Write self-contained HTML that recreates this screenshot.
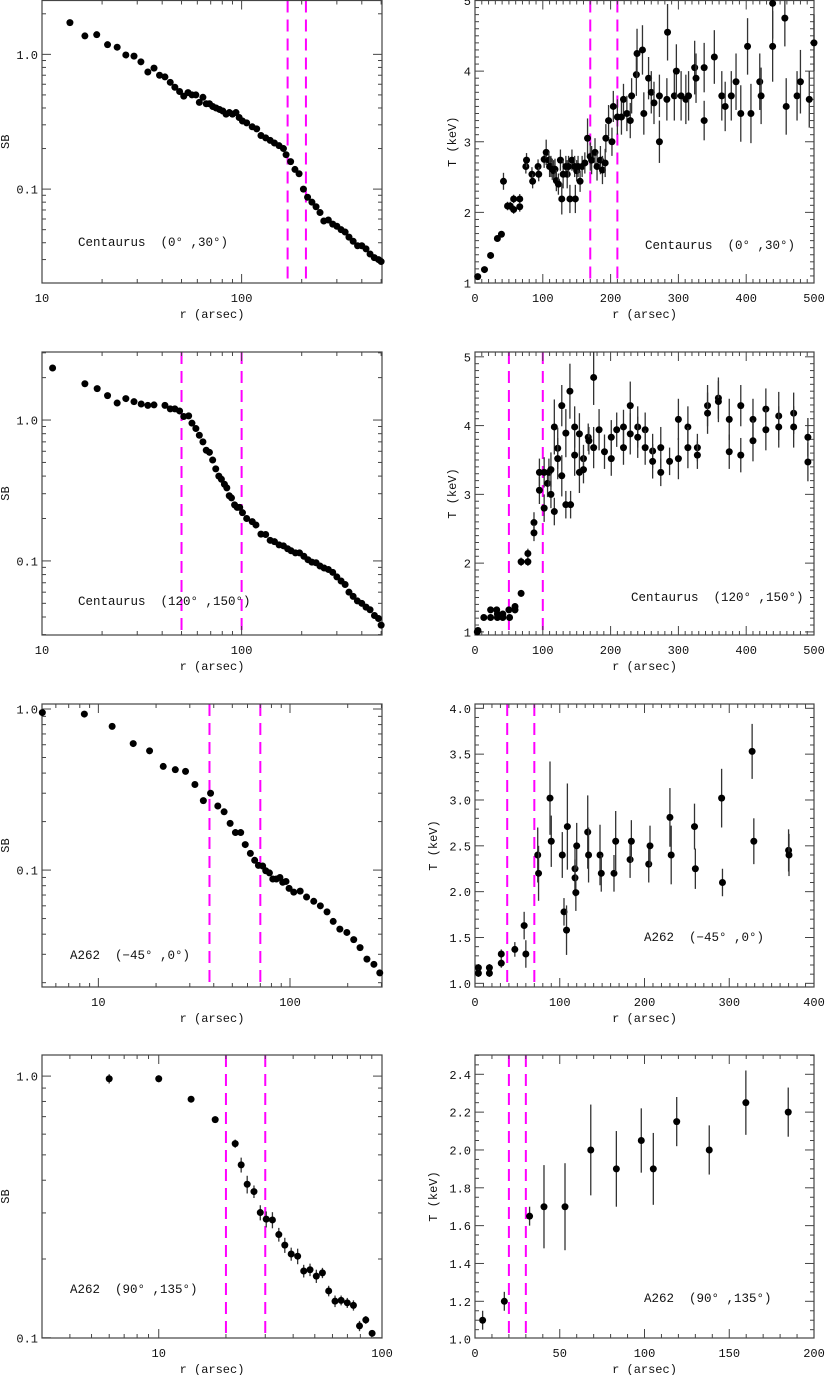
<!DOCTYPE html>
<html><head><meta charset="utf-8"><title>SB and T profiles</title>
<style>
html,body{margin:0;padding:0;background:#fff;}
svg{display:block;font-family:"Liberation Mono","DejaVu Sans Mono",monospace;}
svg text{white-space:pre;}
</style></head>
<body>
<svg id="fig" width="825" height="1375" viewBox="0 0 825 1375" xmlns="http://www.w3.org/2000/svg"></svg>
<script>
// ---------- Panel 1: Centaurus (0,30) SB ----------
const p1R=[13.8,16.4,18.8,21.3,23.8,26.3,28.9,31.3,33.9,36.4,38.8,41.3,43.9,46.3,48.9,51.3,53.9,56.4,59,61.4,64,66.5,69,71.7,74.5,77.5,80.5,83.6,86.8,90,93.7,97.2,101,106,113,119,125,132,139,146,154,162,167,176,185,194,204,214,225,236,247,258,272,286,300,315,330,345,362,381,400,420,440,462,485,500];
const p1SB=[1.72,1.37,1.40,1.18,1.13,0.99,0.97,0.88,0.74,0.79,0.70,0.68,0.62,0.57,0.53,0.49,0.52,0.50,0.50,0.44,0.48,0.43,0.43,0.41,0.40,0.39,0.38,0.36,0.37,0.36,0.37,0.34,0.32,0.31,0.29,0.28,0.25,0.24,0.23,0.22,0.21,0.20,0.18,0.16,0.14,0.13,0.10,0.087,0.080,0.074,0.067,0.058,0.059,0.055,0.053,0.050,0.048,0.044,0.041,0.038,0.038,0.036,0.033,0.031,0.030,0.029];
// ---------- Panel 2: Centaurus (0,30) T ----------
const p2R=[4,14,23,33,39,42,48,52,57,57,66,66,75,76,84,85,93,94,102,105,109,110,112,114,116,118,120,123,126,128,130,134,136,138,140,143,147,148,150,152,155,158,162,166,170,172,177,180,185,188,192,193,197,202,204,210,216,219,224,229,231,238,239,247,249,256,260,264,272,272,284,283,294,297,304,311,315,324,326,338,338,353,364,369,378,385,392,402,407,420,422,439,439,457,459,475,480,493,500];
const p2T=[1.09,1.19,1.39,1.63,1.69,2.44,2.09,2.09,2.04,2.19,2.08,2.19,2.65,2.74,2.54,2.44,2.65,2.54,2.75,2.85,2.74,2.65,2.65,2.61,2.59,2.61,2.45,2.40,2.74,2.19,2.54,2.65,2.54,2.65,2.19,2.74,2.65,2.19,2.59,2.65,2.44,2.65,2.70,3.05,2.79,2.74,2.85,2.65,2.74,2.60,2.70,3.05,3.30,3.00,3.50,3.35,3.35,3.60,3.40,3.30,3.65,3.95,4.25,4.30,3.40,3.90,3.70,3.55,3.00,3.65,4.55,3.60,3.65,4.00,3.65,3.60,3.65,4.05,3.90,4.05,3.30,4.20,3.65,3.50,3.65,3.85,3.40,4.35,3.40,3.85,3.65,4.96,4.35,4.75,3.50,3.65,3.85,3.60,4.40];
const p2E=[0.03,0.03,0.03,0.04,0.04,0.12,0.06,0.06,0.06,0.06,0.07,0.07,0.1,0.1,0.1,0.1,0.1,0.1,0.12,0.18,0.12,0.15,0.15,0.15,0.15,0.15,0.15,0.15,0.15,0.22,0.2,0.15,0.2,0.15,0.2,0.15,0.15,0.2,0.15,0.15,0.15,0.15,0.15,0.28,0.2,0.2,0.2,0.2,0.2,0.2,0.2,0.2,0.22,0.2,0.22,0.25,0.25,0.22,0.25,0.25,0.25,0.3,0.35,0.35,0.3,0.3,0.3,0.3,0.3,0.3,0.4,0.3,0.35,0.38,0.35,0.35,0.35,0.38,0.35,0.35,0.28,0.38,0.35,0.35,0.35,0.4,0.4,0.4,0.42,0.4,0.4,0.5,0.5,0.4,0.4,0.35,0.45,0.4,0.4];
// ---------- Panel 3: Centaurus (120,150) SB ----------
const p3R=[11.3,16.4,18.9,21.3,23.8,26.3,28.9,31.4,33.9,36.4,41.3,43.9,46.3,48.9,51.3,54.3,56.4,59,61.4,64,66.5,69,71.6,74.2,76.9,79.2,82,84.3,86.7,89,92.2,95,97.8,101,106,113,118,125,132,139,146,154,162,170,177,186,195,205,215,225,236,247,259,272,286,300,315,330,345,362,380,400,420,440,463,485,500];
const p3SB=[2.34,1.81,1.67,1.49,1.32,1.42,1.35,1.30,1.27,1.28,1.27,1.20,1.20,1.16,1.06,1.07,0.95,0.87,0.78,0.70,0.61,0.59,0.52,0.45,0.40,0.38,0.35,0.33,0.29,0.28,0.25,0.24,0.24,0.22,0.20,0.19,0.18,0.155,0.154,0.14,0.137,0.13,0.128,0.122,0.118,0.114,0.114,0.108,0.102,0.098,0.097,0.092,0.089,0.087,0.083,0.077,0.072,0.068,0.060,0.056,0.052,0.050,0.047,0.045,0.041,0.039,0.035];
// ---------- Panel 4: Centaurus (120,150) T ----------
const p4R=[3.4,4.4,13,23,23,32,33,33,41,41,50,51,59,59,68,68,78,78,87,87,95,95,102,102,107,109,112,112,117,117,122,122,128,128,134,134,140,141,147,147,154,154,160,160,167,168,175,175,183,191,201,201,209,219,219,229,229,240,240,251,251,262,262,274,274,287,300,300,314,314,328,328,343,343,359,359,375,375,392,392,410,410,429,429,448,448,470,470,491,491];
const p4T=[1.0,1.02,1.21,1.32,1.21,1.32,1.21,1.26,1.26,1.21,1.32,1.21,1.37,1.32,2.02,1.56,2.14,2.02,2.59,2.44,3.32,3.06,2.80,3.32,3.16,3.32,3.00,3.36,2.75,3.98,3.67,3.52,4.29,3.27,3.89,2.85,4.50,2.85,3.57,3.98,3.32,3.88,3.52,3.36,3.83,3.78,4.70,3.68,3.94,3.62,3.83,3.52,3.94,3.98,3.68,4.29,3.88,3.98,3.83,3.94,3.68,3.63,3.48,3.68,3.32,3.48,4.09,3.52,3.98,3.68,3.68,3.57,4.29,4.18,4.40,4.35,4.09,3.62,4.29,3.57,4.09,3.78,4.24,3.94,4.14,3.98,4.18,3.98,3.83,3.47];
const p4E=[0.02,0.02,0.03,0.04,0.04,0.04,0.04,0.04,0.04,0.04,0.04,0.04,0.05,0.05,0.06,0.05,0.07,0.06,0.15,0.12,0.2,0.2,0.2,0.22,0.2,0.2,0.2,0.25,0.2,0.4,0.3,0.3,0.3,0.3,0.35,0.2,0.4,0.2,0.3,0.3,0.3,0.3,0.2,0.2,0.2,0.2,0.4,0.3,0.3,0.25,0.25,0.25,0.25,0.25,0.25,0.35,0.3,0.3,0.3,0.25,0.25,0.25,0.25,0.3,0.2,0.2,0.3,0.3,0.3,0.3,0.2,0.2,0.3,0.3,0.3,0.3,0.3,0.25,0.3,0.25,0.3,0.3,0.3,0.3,0.35,0.3,0.3,0.3,0.28,0.28];
// ---------- Panel 5: A262 (-45,0) SB ----------
const p5R=[5.1,8.45,11.8,15.2,18.5,21.8,25.2,28.5,31.9,35.3,38.5,42.0,45.3,48.7,51.9,55.3,58.4,62.1,65.4,68.4,72.0,74.7,78.1,81.3,84.9,88.6,91.6,95.3,98.9,104.6,113,122,133,144,156,168,182,198,215,232,252,274,294];
const p5SB=[0.95,0.93,0.78,0.61,0.55,0.44,0.42,0.41,0.34,0.27,0.30,0.25,0.23,0.195,0.171,0.171,0.144,0.127,0.115,0.107,0.106,0.099,0.096,0.088,0.088,0.090,0.084,0.085,0.077,0.073,0.074,0.068,0.064,0.060,0.055,0.048,0.043,0.041,0.037,0.033,0.028,0.026,0.023];
// ---------- Panel 6: A262 (-45,0) T ----------
const p6R=[4,4,17,17,31,31,47,58,60,74,75,88.5,90,103,105,108,109,118,118,119,120,133,134,147.5,149,164,166,183,184.5,205,206.5,230,231.5,259,260,291,292,327,329,370,370.5];
const p6T=[1.17,1.11,1.17,1.11,1.32,1.22,1.37,1.63,1.32,2.40,2.20,3.02,2.55,2.40,1.78,1.58,2.71,2.25,2.15,1.99,2.50,2.65,2.40,2.40,2.20,2.20,2.55,2.35,2.55,2.30,2.50,2.81,2.40,2.71,2.25,3.02,2.10,3.53,2.55,2.45,2.40];
const p6E=[0.04,0.04,0.04,0.04,0.05,0.05,0.08,0.15,0.15,0.3,0.3,0.4,0.28,0.25,0.15,0.27,0.47,0.25,0.2,0.2,0.25,0.4,0.3,0.33,0.2,0.2,0.33,0.2,0.23,0.2,0.22,0.32,0.32,0.25,0.22,0.32,0.15,0.3,0.25,0.23,0.23];
// ---------- Panel 7: A262 (90,135) SB ----------
const p7R=[6.0,10,13.96,17.9,22.0,23.4,24.9,26.7,28.5,30.3,32.3,34.5,36.7,39.2,41.9,44.6,47.6,50.8,54.1,57.7,61.6,65.6,69.9,74.5,79.3,84.6,90.3];
const p7SB=[0.977,0.977,0.816,0.682,0.552,0.458,0.386,0.362,0.301,0.284,0.282,0.248,0.226,0.209,0.205,0.180,0.182,0.172,0.177,0.151,0.138,0.139,0.136,0.133,0.111,0.117,0.104];
const p7E=[0.04,0.03,0.02,0.02,0.02,0.03,0.03,0.02,0.02,0.02,0.02,0.015,0.015,0.012,0.014,0.01,0.01,0.01,0.008,0.007,0.007,0.006,0.006,0.006,0.005,0.004,0.003];
// ---------- Panel 8: A262 (90,135) T ----------
const p8R=[4.5,17.3,32.2,40.7,53.1,68.3,83.4,98.1,105.2,119.0,138.2,159.8,184.8];
const p8T=[1.10,1.20,1.65,1.70,1.70,2.00,1.90,2.05,1.90,2.15,2.00,2.25,2.20];
const p8E=[0.05,0.05,0.05,0.22,0.23,0.24,0.2,0.17,0.19,0.13,0.13,0.17,0.13];
// ---------- tick labels ----------
const logXTicksA=[10,100], logXLabelsA=["10","100"];
const logXTicksB=[10,100], logXLabelsB=["10","100"];
const logYTicks=[0.1,1.0], logYLabels=["0.1","1.0"];
const p2YTicks=[1,2,3,4,5], p2YLabels=["1","2","3","4","5"];
const p4YTicks=[1,2,3,4,5], p4YLabels=["1","2","3","4","5"];
const p6YTicks=[1.0,1.5,2.0,2.5,3.0,3.5,4.0], p6YLabels=["1.0","1.5","2.0","2.5","3.0","3.5","4.0"];
const p8YTicks=[1.0,1.2,1.4,1.6,1.8,2.0,2.2,2.4], p8YLabels=["1.0","1.2","1.4","1.6","1.8","2.0","2.2","2.4"];
const x500Ticks=[0,100,200,300,400,500], x500Labels=["0","100","200","300","400","500"];
const x400Ticks=[0,100,200,300,400], x400Labels=["0","100","200","300","400"];
const x200Ticks=[0,50,100,150,200], x200Labels=["0","50","100","150","200"];
const dashes1=[170,210], dashes2=[50,100], dashes3=[38,70], dashes4=[20,30];

const NS="http://www.w3.org/2000/svg";
const svg=document.getElementById('fig');
function mk(tag,attrs,parent){const e=document.createElementNS(NS,tag);for(const k in attrs)e.setAttribute(k,attrs[k]);(parent||svg).appendChild(e);return e;}

function panel(c){
  const g=mk('g',{});
  
  
  const L=c.L,R=c.R,T=c.T,B=c.B;
  const sx=c.xlog?(v=>L+(Math.log10(v)-Math.log10(c.xmin))/(Math.log10(c.xmax)-Math.log10(c.xmin))*(R-L)):(v=>L+(v-c.xmin)/(c.xmax-c.xmin)*(R-L));
  const sy=c.ylog?(v=>B-(Math.log10(v)-Math.log10(c.ymin))/(Math.log10(c.ymax)-Math.log10(c.ymin))*(B-T)):(v=>B-(v-c.ymin)/(c.ymax-c.ymin)*(B-T));
  c.dash.forEach(d=>{const l=mk('line',{x1:sx(d),x2:sx(d),y1:T,y2:B,stroke:'#ff00ff','stroke-width':2,'stroke-dasharray':'12,7'},g);
    
    });
  const tk=(x1,y1,x2,y2)=>mk('line',{x1,y1,x2,y2,stroke:'#444','stroke-width':1},g);
  function axisTicks(isX,log,min,max,major,minor){
    const list=[];
    if(log){for(let d=Math.floor(Math.log10(min));d<=Math.ceil(Math.log10(max));d++){for(let m=1;m<=9;m++){const v=m*Math.pow(10,d);if(v>=min*0.999&&v<=max*1.001)list.push([v,m===1]);}}}
    else{const s=Math.ceil((min-1e-9)/minor)*minor;for(let v=s;v<=max+1e-9;v+=minor){const mj=Math.abs(v/major-Math.round(v/major))<1e-6;list.push([v,mj]);}}
    list.forEach(([v,mj])=>{const len=mj?9:4;
      if(isX){const x=sx(v);tk(x,B,x,B-len);tk(x,T,x,T+len);}else{const y=sy(v);tk(L,y,L+len,y);tk(R,y,R-len,y);}});
  }
  axisTicks(true,c.xlog,c.xmin,c.xmax,c.xmaj,c.xmin_);
  axisTicks(false,c.ylog,c.ymin,c.ymax,c.ymaj,c.ymin_);
  mk('rect',{x:L,y:T,width:R-L,height:B-T,fill:'none',stroke:'#444','stroke-width':1.2},g);
  c.xt.forEach((v,i)=>{const t=mk('text',{x:sx(v),y:B+19,'font-size':12,'text-anchor':'middle',fill:'#111'},g);t.textContent=c.xl[i];
    });
  c.yt.forEach((v,i)=>{const t=mk('text',{x:L-4,y:sy(v)+4.5,'font-size':12,'text-anchor':'end',fill:'#111'},g);t.textContent=c.yl[i];
    });
  const xt=mk('text',{x:(L+R)/2,y:B+35,'font-size':12,'text-anchor':'middle',fill:'#111'},g);xt.textContent='r (arsec)';
  
  const yx=c.ytitleX,yy=(T+B)/2;
  const ytt=mk('text',{x:yx,y:yy,'font-size':12,'text-anchor':'middle',fill:'#111',transform:`rotate(-90 ${yx} ${yy})`},g);ytt.textContent=c.ytitle;
  
  const lab=mk('text',{x:c.labX,y:c.labY,'font-size':12.5,fill:'#111'},g);lab.textContent=c.label;
  
  c.xs.forEach((xv,i)=>{const yv=c.ys[i];const X=sx(xv),Y=sy(yv);
    if(c.es){const e=c.es[i];const y1=Math.max(T,sy(yv+e)),y2=Math.min(B,sy(Math.max(yv-e,1e-6)));
      const el=mk('line',{x1:X,x2:X,y1:y1,y2:y2,stroke:'#333','stroke-width':1.3},g);
      }
    if(X<L-4||X>R+4)return;
    const d=mk('circle',{cx:X,cy:Y,r:3.5,fill:'#000'},g);
    });
}

const LL=42,LR=382,RL=475,RR=814;
panel({name:'panel-centaurus-0-30-sb',L:LL,R:LR,T:0.5,B:283,xlog:true,ylog:true,xmin:10,xmax:505,ymin:0.0201,ymax:2.51,xmaj:0,xmin_:0,ymaj:0,ymin_:0,
  xt:logXTicksA,xl:logXLabelsA,yt:logYTicks,yl:logYLabels,ytitle:'SB',ytitleX:9,label:'Centaurus  (0° ,30°)',labX:78,labY:246,xs:p1R,ys:p1SB,dash:dashes1});
panel({name:'panel-centaurus-0-30-temperature',L:RL,R:RR,T:0.5,B:283,xlog:false,ylog:false,xmin:0,xmax:500,ymin:1,ymax:5,xmaj:100,xmin_:10,ymaj:1,ymin_:0.1,
  xt:x500Ticks,xl:x500Labels,yt:p2YTicks,yl:p2YLabels,ytitle:'T (keV)',ytitleX:456,label:'Centaurus  (0° ,30°)',labX:645,labY:249,xs:p2R,ys:p2T,es:p2E,dash:dashes1});
panel({name:'panel-centaurus-120-150-sb',L:LL,R:LR,T:352,B:635,xlog:true,ylog:true,xmin:10,xmax:505,ymin:0.0298,ymax:3.04,xmaj:0,xmin_:0,ymaj:0,ymin_:0,
  xt:logXTicksB,xl:logXLabelsB,yt:logYTicks,yl:logYLabels,ytitle:'SB',ytitleX:9,label:'Centaurus  (120° ,150°)',labX:78,labY:605,xs:p3R,ys:p3SB,dash:dashes2});
panel({name:'panel-centaurus-120-150-temperature',L:RL,R:RR,T:352,B:635,xlog:false,ylog:false,xmin:0,xmax:500,ymin:0.955,ymax:5.07,xmaj:100,xmin_:10,ymaj:1,ymin_:0.1,
  xt:x500Ticks,xl:x500Labels,yt:p4YTicks,yl:p4YLabels,ytitle:'T (keV)',ytitleX:456,label:'Centaurus  (120° ,150°)',labX:631,labY:601,xs:p4R,ys:p4T,es:p4E,dash:dashes2});
panel({name:'panel-a262-m45-0-sb',L:LL,R:LR,T:704,B:987,xlog:true,ylog:true,xmin:5.08,xmax:302,ymin:0.0188,ymax:1.074,xmaj:0,xmin_:0,ymaj:0,ymin_:0,
  xt:logXTicksA,xl:logXLabelsA,yt:logYTicks,yl:logYLabels,ytitle:'SB',ytitleX:9,label:'A262  (−45° ,0°)',labX:70,labY:959,xs:p5R,ys:p5SB,dash:dashes3});
panel({name:'panel-a262-m45-0-temperature',L:RL,R:RR,T:704,B:987,xlog:false,ylog:false,xmin:0,xmax:400,ymin:0.96,ymax:4.047,xmaj:100,xmin_:10,ymaj:0.5,ymin_:0.1,
  xt:x400Ticks,xl:x400Labels,yt:p6YTicks,yl:p6YLabels,ytitle:'T (keV)',ytitleX:437,label:'A262  (−45° ,0°)',labX:644,labY:941,xs:p6R,ys:p6T,es:p6E,dash:dashes3});
panel({name:'panel-a262-90-135-sb',L:LL,R:LR,T:1055,B:1338,xlog:true,ylog:true,xmin:3.0,xmax:100,ymin:0.0998,ymax:1.204,xmaj:0,xmin_:0,ymaj:0,ymin_:0,
  xt:[10,100],xl:["10","100"],yt:logYTicks,yl:logYLabels,ytitle:'SB',ytitleX:9,label:'A262  (90° ,135°)',labX:70,labY:1293,xs:p7R,ys:p7SB,es:p7E,dash:dashes4});
panel({name:'panel-a262-90-135-temperature',L:RL,R:RR,T:1055,B:1338,xlog:false,ylog:false,xmin:0,xmax:200,ymin:1.006,ymax:2.502,xmaj:50,xmin_:10,ymaj:0.2,ymin_:0.05,
  xt:x200Ticks,xl:x200Labels,yt:p8YTicks,yl:p8YLabels,ytitle:'T (keV)',ytitleX:437,label:'A262  (90° ,135°)',labX:644,labY:1302,xs:p8R,ys:p8T,es:p8E,dash:dashes4});
</script>
</body></html>
